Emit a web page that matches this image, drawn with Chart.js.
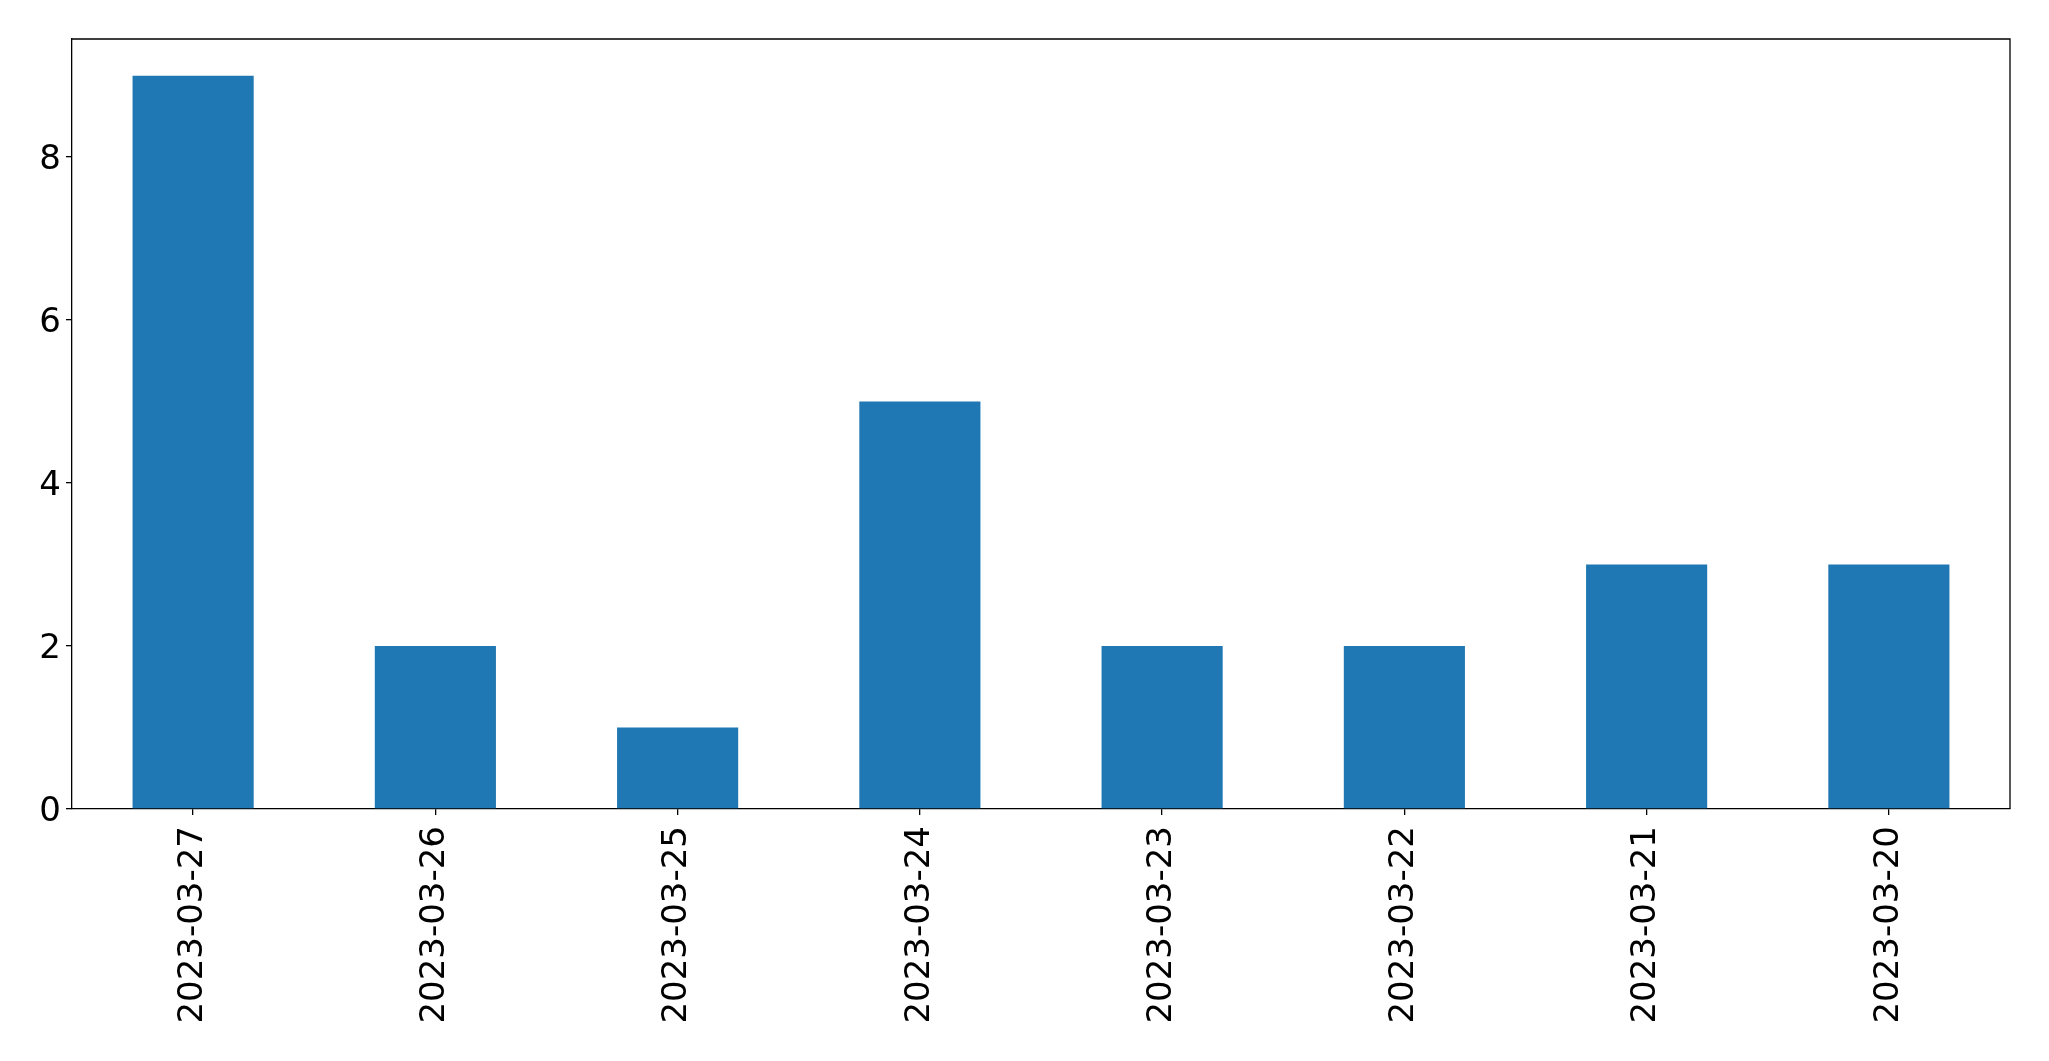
<!DOCTYPE html>
<html>
<head>
<meta charset="utf-8">
<script src="https://cdn.jsdelivr.net/npm/chart.js@4"></script>
<style>
html,body{margin:0;padding:0;background:#fff;}
canvas{display:block;}
</style>
</head>
<body>
<canvas id="c" width="2049" height="1061"></canvas>
<script>
const categories = ["2023-03-27","2023-03-26","2023-03-25","2023-03-24","2023-03-23","2023-03-22","2023-03-21","2023-03-20"];
const counts = [9, 2, 1, 5, 2, 2, 3, 3];
const yTicks = [0, 2, 4, 6, 8];
const yMax = 9.45;

const FONT = {family: "'DejaVu Sans'", size: 34};

new Chart(document.getElementById('c'), {
  type: 'bar',
  data: {
    labels: categories,
    datasets: [{
      data: counts,
      backgroundColor: '#1f77b4',
      borderWidth: 0,
      categoryPercentage: 1.0,
      barPercentage: 0.5
    }]
  },
  options: {
    responsive: false,
    animation: false,
    devicePixelRatio: 1,
    layout: {padding: {top: 39, right: 39, left: 0, bottom: 0}},
    plugins: {legend: {display: false}, tooltip: {enabled: false}},
    scales: {
      x: {
        offset: true,
        grid: {display: true, offset: false, drawOnChartArea: false, drawTicks: true, tickLength: 6, color: '#000', lineWidth: 1.3},
        border: {display: true, color: '#000', width: 1.3},
        ticks: {
          color: '#000', font: FONT, maxRotation: 90, minRotation: 90, padding: 11, autoSkip: false
        },
        afterFit: s => { s.height = 252; }
      },
      y: {
        min: 0, max: yMax,
        grid: {display: true, drawOnChartArea: false, drawTicks: true, tickLength: 6, color: '#000', lineWidth: 1.3},
        border: {display: true, color: '#000', width: 1.3},
        ticks: {
          color: '#000', font: {family: FONT.family, size: FONT.size, lineHeight: '6px'}, padding: 5, stepSize: 2,
          callback: v => ['', String(v)]
        },
        afterBuildTicks: s => { s.ticks = yTicks.map(v => ({value: v})); },
        afterFit: s => { s.width = 72; }
      }
    }
  },
  plugins: [{
    id: 'frame',
    afterDraw(chart) {
      const {ctx, chartArea: a} = chart;
      ctx.save();
      ctx.strokeStyle = '#000';
      ctx.lineWidth = 1.3;
      ctx.beginPath();
      ctx.moveTo(a.left, a.top);
      ctx.lineTo(a.right, a.top);
      ctx.lineTo(a.right, a.bottom);
      ctx.stroke();
      ctx.restore();
    }
  }]
});
</script>
</body>
</html>
